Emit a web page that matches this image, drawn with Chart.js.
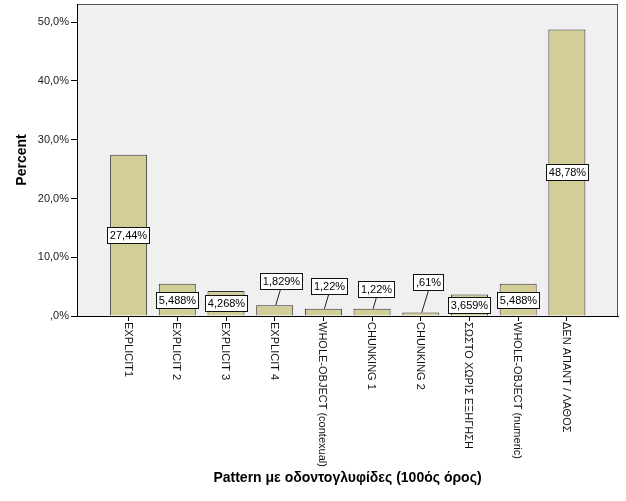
<!DOCTYPE html>
<html>
<head>
<meta charset="utf-8">
<script src="https://cdn.jsdelivr.net/npm/chart.js@4"></script>
<style>
html,body{margin:0;padding:0;background:#fff;}
#c{display:block;}
</style>
</head>
<body>
<canvas id="c" width="626" height="501"></canvas>
<script>
// ---- data ----
const categories = ["EXPLICIT1","EXPLICIT 2","EXPLICIT 3","EXPLICIT 4","WHOLE-OBJECT (contexual)","CHUNKING 1","CHUNKING 2","ΣΩΣΤΟ ΧΩΡΙΣ ΕΞΗΓΗΣΗ","WHOLE-OBJECT (numeric)","ΔΕΝ ΑΠΑΝΤ / ΛΑΘΟΣ"];
const percents = [27.44, 5.488, 4.268, 1.829, 1.22, 1.22, 0.61, 3.659, 5.488, 48.78];
const valueLabels = ["27,44%","5,488%","4,268%","1,829%","1,22%","1,22%",",61%","3,659%","5,488%","48,78%"];
const yTickValues = [0, 10, 20, 30, 40, 50];
const yTickLabels = [",0%","10,0%","20,0%","30,0%","40,0%","50,0%"];
const xTitle = "Pattern με οδοντογλυφίδες (100ός όρος)";
const yTitle = "Percent";
// label callout placement for small bars: [dx, dy above bar top] (null = centred in bar)
const calloutOffsets = [null, null, null, [6, 24.6], [5.4, 22.8], [4.5, 20], [7.7, 30], null, null, null];

const FONT = '"Liberation Sans", Arial, sans-serif';

const decor = {
  id: 'decor',
  beforeDraw(chart) {
    const {ctx, chartArea: a} = chart;
    ctx.save();
    ctx.fillStyle = '#f0f0f0';
    ctx.fillRect(a.left, a.top, a.right - a.left, a.bottom - a.top);
    ctx.strokeStyle = '#555';
    ctx.lineWidth = 1;
    ctx.strokeRect(a.left + 0.5, a.top + 0.5, a.right - a.left - 1, a.bottom - a.top);
    ctx.restore();
  },
  afterDatasetsDraw(chart) {
    const {ctx, chartArea: a} = chart;
    const meta = chart.getDatasetMeta(0);
    ctx.save();
    ctx.font = '11px ' + FONT;
    ctx.textBaseline = 'middle';
    ctx.textAlign = 'center';
    meta.data.forEach((el, i) => {
      const txt = valueLabels[i];
      const w = ctx.measureText(txt).width + 5;
      const h = 16;
      let cx, cy;
      const off = calloutOffsets[i];
      if (off) {
        cx = el.x + off[0];
        cy = el.y - off[1];
        ctx.strokeStyle = '#222';
        ctx.lineWidth = 1;
        ctx.beginPath();
        ctx.moveTo(el.x + 1, el.y);
        ctx.lineTo(cx, cy + h / 2);
        ctx.stroke();
      } else {
        cx = el.x;
        cy = (el.y + el.base) / 2;
      }
      const bx = Math.round(cx - w / 2) + 0.5, by = Math.round(cy - h / 2) + 0.5;
      ctx.fillStyle = '#fff';
      ctx.fillRect(bx, by, Math.round(w), h);
      ctx.strokeStyle = '#111';
      ctx.strokeRect(bx, by, Math.round(w), h);
      ctx.fillStyle = '#000';
      ctx.fillText(txt, bx + Math.round(w) / 2, by + h / 2 + 0.5);
    });
    // category labels, rotated clockwise
    const xs = chart.scales.x;
    ctx.font = '11px ' + FONT;
    ctx.fillStyle = '#111';
    ctx.textAlign = 'left';
    ctx.textBaseline = 'middle';
    categories.forEach((c, i) => {
      const x = xs.getPixelForValue(i);
      ctx.save();
      ctx.translate(x - 1, a.bottom + 6);
      ctx.rotate(Math.PI / 2);
      ctx.fillText(c, 0, 0);
      ctx.restore();
    });
    // axis titles
    ctx.font = 'bold 14px ' + FONT;
    ctx.fillStyle = '#000';
    ctx.textAlign = 'center';
    ctx.fillText(xTitle, (a.left + a.right) / 2, 478);
    ctx.save();
    ctx.translate(22, (a.top + a.bottom) / 2);
    ctx.rotate(-Math.PI / 2);
    ctx.fillText(yTitle, 0, 0);
    ctx.restore();
    ctx.restore();
  }
};

new Chart(document.getElementById('c'), {
  type: 'bar',
  data: {
    datasets: [{
      data: percents.map((v, i) => ({x: i, y: v})),
      backgroundColor: '#d3ce97',
      borderColor: '#333',
      borderWidth: 1,
      borderSkipped: 'bottom',
      barPercentage: 0.76,
      categoryPercentage: 1
    }]
  },
  options: {
    responsive: false,
    animation: false,
    devicePixelRatio: 1,
    layout: {padding: {left: 0, right: 8, top: 4, bottom: 0}},
    plugins: {legend: {display: false}, tooltip: {enabled: false}},
    scales: {
      x: {
        type: 'linear',
        offset: false,
        min: -1.06,
        max: 10.05,
        afterBuildTicks(s) { s.ticks = categories.map((c, i) => ({value: i})); },
        afterFit(s) { s.height = 501 - 316; s.paddingLeft = 0; s.paddingRight = 0; },
        ticks: {display: false},
        grid: {offset: false, drawOnChartArea: false, drawTicks: true, tickLength: 5, color: '#000'},
        border: {color: '#000'}
      },
      y: {
        min: 0,
        max: 53.1,
        afterBuildTicks(s) { s.ticks = yTickValues.map(v => ({value: v})); },
        afterFit(s) { s.width = 77; s.paddingTop = 0; s.paddingBottom = 0; },
        ticks: {
          callback: (v) => yTickLabels[yTickValues.indexOf(v)],
          font: {family: FONT, size: 11},
          color: '#222',
          padding: 2
        },
        grid: {drawOnChartArea: false, drawTicks: true, tickLength: 6, color: '#000'},
        border: {color: '#000'}
      }
    }
  },
  plugins: [decor]
});
</script>
</body>
</html>
